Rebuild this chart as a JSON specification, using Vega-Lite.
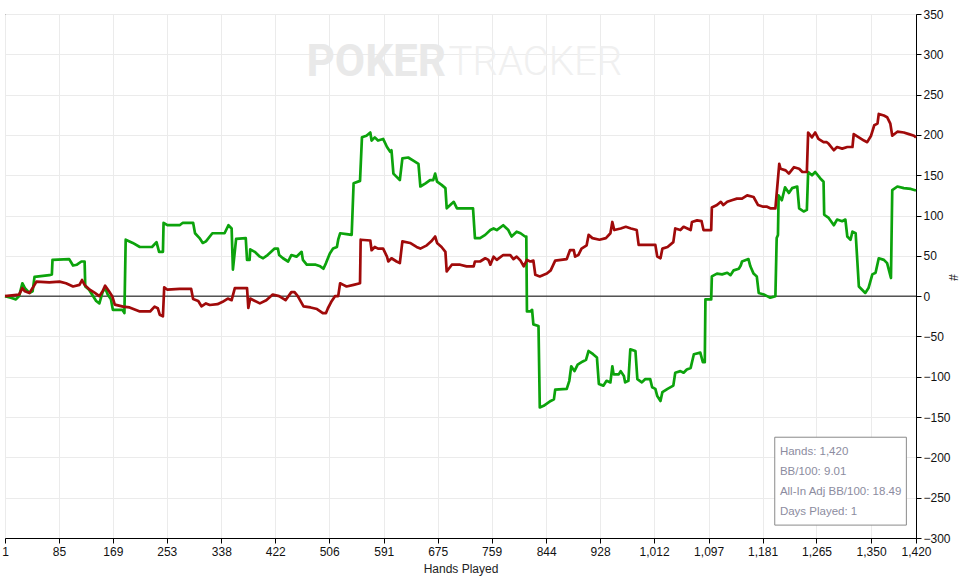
{
  "$schema": "https://vega.github.io/schema/vega-lite/v6.json",
  "width": 911,
  "height": 524,
  "autosize": "none",
  "padding": {"left": 5, "top": 14, "right": 48, "bottom": 40},
  "background": "white",
  "config": {
    "view": {"stroke": "black", "strokeWidth": 1},
    "font": "Liberation Sans"
  },
  "datasets": {
    "stats": [
      {"label": "Hands: 1,420|BB/100: 9.01|All-In Adj BB/100: 18.49|Days Played: 1"}
    ],
    "series": [
      {"s":"g","h":1,"v":0},{"s":"g","h":10,"v":-2},{"s":"g","h":18,"v":-4},{"s":"g","h":23,"v":0},{"s":"g","h":28,"v":16},{"s":"g","h":32,"v":10},{"s":"g","h":39,"v":4},{"s":"g","h":44,"v":6},{"s":"g","h":47,"v":24},{"s":"g","h":70,"v":26},{"s":"g","h":74,"v":27},{"s":"g","h":75,"v":45},{"s":"g","h":101,"v":46},{"s":"g","h":107,"v":38},{"s":"g","h":113,"v":39},{"s":"g","h":120,"v":43},{"s":"g","h":125,"v":43},{"s":"g","h":126,"v":12},{"s":"g","h":132,"v":8},{"s":"g","h":143,"v":-6},{"s":"g","h":148,"v":-9},{"s":"g","h":153,"v":5},{"s":"g","h":157,"v":10},{"s":"g","h":161,"v":2},{"s":"g","h":166,"v":-4},{"s":"g","h":169,"v":-17},{"s":"g","h":184,"v":-17},{"s":"g","h":187,"v":-21},{"s":"g","h":189,"v":70},{"s":"g","h":200,"v":66},{"s":"g","h":211,"v":61},{"s":"g","h":230,"v":61},{"s":"g","h":237,"v":67},{"s":"g","h":241,"v":55},{"s":"g","h":247,"v":55},{"s":"g","h":248,"v":91},{"s":"g","h":254,"v":88},{"s":"g","h":273,"v":88},{"s":"g","h":278,"v":91},{"s":"g","h":294,"v":91},{"s":"g","h":297,"v":78},{"s":"g","h":304,"v":72},{"s":"g","h":309,"v":66},{"s":"g","h":314,"v":68},{"s":"g","h":324,"v":78},{"s":"g","h":343,"v":78},{"s":"g","h":349,"v":88},{"s":"g","h":354,"v":84},{"s":"g","h":356,"v":33},{"s":"g","h":361,"v":71},{"s":"g","h":376,"v":72},{"s":"g","h":378,"v":45},{"s":"g","h":382,"v":45},{"s":"g","h":383,"v":58},{"s":"g","h":390,"v":55},{"s":"g","h":398,"v":49},{"s":"g","h":403,"v":47},{"s":"g","h":410,"v":51},{"s":"g","h":421,"v":59},{"s":"g","h":426,"v":59},{"s":"g","h":428,"v":51},{"s":"g","h":434,"v":47},{"s":"g","h":442,"v":43},{"s":"g","h":447,"v":51},{"s":"g","h":455,"v":49},{"s":"g","h":463,"v":55},{"s":"g","h":465,"v":45},{"s":"g","h":471,"v":39},{"s":"g","h":485,"v":39},{"s":"g","h":492,"v":37},{"s":"g","h":497,"v":34},{"s":"g","h":501,"v":41},{"s":"g","h":507,"v":53},{"s":"g","h":512,"v":59},{"s":"g","h":518,"v":61},{"s":"g","h":520,"v":70},{"s":"g","h":523,"v":78},{"s":"g","h":533,"v":77},{"s":"g","h":541,"v":76},{"s":"g","h":544,"v":140},{"s":"g","h":554,"v":143},{"s":"g","h":557,"v":197},{"s":"g","h":564,"v":199},{"s":"g","h":570,"v":203},{"s":"g","h":572,"v":193},{"s":"g","h":577,"v":197},{"s":"g","h":582,"v":193},{"s":"g","h":590,"v":195},{"s":"g","h":596,"v":185},{"s":"g","h":601,"v":179},{"s":"g","h":603,"v":181},{"s":"g","h":606,"v":152},{"s":"g","h":611,"v":148},{"s":"g","h":616,"v":144},{"s":"g","h":620,"v":171},{"s":"g","h":629,"v":172},{"s":"g","h":637,"v":168},{"s":"g","h":645,"v":164},{"s":"g","h":648,"v":136},{"s":"g","h":656,"v":140},{"s":"g","h":663,"v":144},{"s":"g","h":668,"v":144},{"s":"g","h":671,"v":152},{"s":"g","h":674,"v":142},{"s":"g","h":681,"v":138},{"s":"g","h":687,"v":134},{"s":"g","h":689,"v":109},{"s":"g","h":697,"v":115},{"s":"g","h":700,"v":117},{"s":"g","h":705,"v":109},{"s":"g","h":730,"v":109},{"s":"g","h":733,"v":72},{"s":"g","h":741,"v":72},{"s":"g","h":749,"v":76},{"s":"g","h":757,"v":82},{"s":"g","h":762,"v":84},{"s":"g","h":767,"v":82},{"s":"g","h":777,"v":88},{"s":"g","h":785,"v":82},{"s":"g","h":790,"v":74},{"s":"g","h":798,"v":80},{"s":"g","h":804,"v":78},{"s":"g","h":811,"v":74},{"s":"g","h":813,"v":74},{"s":"g","h":814,"v":-19},{"s":"g","h":819,"v":-19},{"s":"g","h":822,"v":-17},{"s":"g","h":824,"v":-35},{"s":"g","h":832,"v":-37},{"s":"g","h":834,"v":-138},{"s":"g","h":840,"v":-136},{"s":"g","h":851,"v":-130},{"s":"g","h":856,"v":-128},{"s":"g","h":858,"v":-116},{"s":"g","h":876,"v":-115},{"s":"g","h":880,"v":-105},{"s":"g","h":883,"v":-87},{"s":"g","h":888,"v":-93},{"s":"g","h":893,"v":-85},{"s":"g","h":901,"v":-81},{"s":"g","h":906,"v":-79},{"s":"g","h":910,"v":-68},{"s":"g","h":917,"v":-72},{"s":"g","h":923,"v":-76},{"s":"g","h":926,"v":-109},{"s":"g","h":933,"v":-111},{"s":"g","h":938,"v":-105},{"s":"g","h":944,"v":-107},{"s":"g","h":947,"v":-87},{"s":"g","h":949,"v":-97},{"s":"g","h":957,"v":-97},{"s":"g","h":960,"v":-93},{"s":"g","h":965,"v":-99},{"s":"g","h":967,"v":-107},{"s":"g","h":972,"v":-105},{"s":"g","h":975,"v":-66},{"s":"g","h":983,"v":-68},{"s":"g","h":986,"v":-103},{"s":"g","h":993,"v":-107},{"s":"g","h":998,"v":-103},{"s":"g","h":1006,"v":-103},{"s":"g","h":1009,"v":-113},{"s":"g","h":1014,"v":-115},{"s":"g","h":1017,"v":-124},{"s":"g","h":1022,"v":-130},{"s":"g","h":1025,"v":-119},{"s":"g","h":1033,"v":-115},{"s":"g","h":1042,"v":-111},{"s":"g","h":1045,"v":-95},{"s":"g","h":1053,"v":-93},{"s":"g","h":1058,"v":-95},{"s":"g","h":1063,"v":-91},{"s":"g","h":1069,"v":-89},{"s":"g","h":1074,"v":-72},{"s":"g","h":1084,"v":-70},{"s":"g","h":1088,"v":-82},{"s":"g","h":1091,"v":-82},{"s":"g","h":1092,"v":-4},{"s":"g","h":1101,"v":-4},{"s":"g","h":1102,"v":24.5},{"s":"g","h":1110,"v":28},{"s":"g","h":1118,"v":27},{"s":"g","h":1126,"v":29},{"s":"g","h":1131,"v":26},{"s":"g","h":1136,"v":32},{"s":"g","h":1144,"v":34},{"s":"g","h":1147,"v":38},{"s":"g","h":1149,"v":43},{"s":"g","h":1159,"v":46},{"s":"g","h":1162,"v":37},{"s":"g","h":1167,"v":28},{"s":"g","h":1172,"v":24.5},{"s":"g","h":1175,"v":4},{"s":"g","h":1183,"v":2},{"s":"g","h":1188,"v":0},{"s":"g","h":1193,"v":-2},{"s":"g","h":1201,"v":0},{"s":"g","h":1203,"v":72},{"s":"g","h":1205,"v":76},{"s":"g","h":1206,"v":125},{"s":"g","h":1211,"v":119},{"s":"g","h":1216,"v":135},{"s":"g","h":1222,"v":128},{"s":"g","h":1227,"v":134},{"s":"g","h":1235,"v":136},{"s":"g","h":1238,"v":109},{"s":"g","h":1245,"v":105},{"s":"g","h":1250,"v":107},{"s":"g","h":1252,"v":154},{"s":"g","h":1258,"v":150},{"s":"g","h":1263,"v":154},{"s":"g","h":1271,"v":146},{"s":"g","h":1276,"v":142},{"s":"g","h":1277,"v":101},{"s":"g","h":1284,"v":97},{"s":"g","h":1292,"v":88},{"s":"g","h":1297,"v":95},{"s":"g","h":1305,"v":93},{"s":"g","h":1310,"v":95},{"s":"g","h":1313,"v":74},{"s":"g","h":1318,"v":70},{"s":"g","h":1321,"v":80},{"s":"g","h":1326,"v":78},{"s":"g","h":1331,"v":12},{"s":"g","h":1336,"v":8},{"s":"g","h":1341,"v":4},{"s":"g","h":1346,"v":10},{"s":"g","h":1352,"v":27},{"s":"g","h":1357,"v":29},{"s":"g","h":1362,"v":47},{"s":"g","h":1370,"v":45},{"s":"g","h":1375,"v":41},{"s":"g","h":1381,"v":22.5},{"s":"g","h":1383,"v":131.5},{"s":"g","h":1391,"v":136},{"s":"g","h":1401,"v":134},{"s":"g","h":1412,"v":133},{"s":"g","h":1420,"v":131},
      {"s":"r","h":1,"v":0},{"s":"r","h":23,"v":2},{"s":"r","h":28,"v":10},{"s":"r","h":32,"v":6},{"s":"r","h":39,"v":4},{"s":"r","h":44,"v":10},{"s":"r","h":50,"v":18},{"s":"r","h":70,"v":17},{"s":"r","h":86,"v":18},{"s":"r","h":96,"v":16},{"s":"r","h":107,"v":12},{"s":"r","h":117,"v":14},{"s":"r","h":121,"v":20},{"s":"r","h":125,"v":14},{"s":"r","h":133,"v":8},{"s":"r","h":141,"v":4},{"s":"r","h":148,"v":0},{"s":"r","h":153,"v":6},{"s":"r","h":157,"v":13},{"s":"r","h":163,"v":6},{"s":"r","h":168,"v":0},{"s":"r","h":172,"v":-10.5},{"s":"r","h":185,"v":-13},{"s":"r","h":195,"v":-14},{"s":"r","h":211,"v":-19},{"s":"r","h":227,"v":-19},{"s":"r","h":234,"v":-13},{"s":"r","h":239,"v":-15},{"s":"r","h":242,"v":-23},{"s":"r","h":247,"v":-25},{"s":"r","h":249,"v":11},{"s":"r","h":254,"v":8},{"s":"r","h":273,"v":9},{"s":"r","h":291,"v":9},{"s":"r","h":294,"v":-3.5},{"s":"r","h":302,"v":-6},{"s":"r","h":307,"v":-12.6},{"s":"r","h":314,"v":-9},{"s":"r","h":320,"v":-11},{"s":"r","h":332,"v":-10},{"s":"r","h":340,"v":-7},{"s":"r","h":348,"v":-3},{"s":"r","h":354,"v":-5},{"s":"r","h":359,"v":10},{"s":"r","h":378,"v":10},{"s":"r","h":380,"v":-14.6},{"s":"r","h":383,"v":-3},{"s":"r","h":388,"v":-5},{"s":"r","h":398,"v":-9},{"s":"r","h":408,"v":-5},{"s":"r","h":418,"v":2},{"s":"r","h":428,"v":0},{"s":"r","h":438,"v":-5},{"s":"r","h":447,"v":5},{"s":"r","h":452,"v":5},{"s":"r","h":457,"v":0},{"s":"r","h":466,"v":-12.6},{"s":"r","h":477,"v":-14},{"s":"r","h":487,"v":-16},{"s":"r","h":496,"v":-21},{"s":"r","h":501,"v":-21},{"s":"r","h":504,"v":-15},{"s":"r","h":510,"v":-6},{"s":"r","h":515,"v":0},{"s":"r","h":520,"v":0},{"s":"r","h":523,"v":16},{"s":"r","h":528,"v":14},{"s":"r","h":533,"v":12},{"s":"r","h":544,"v":14},{"s":"r","h":554,"v":16},{"s":"r","h":555,"v":70},{"s":"r","h":570,"v":69},{"s":"r","h":572,"v":57},{"s":"r","h":577,"v":61},{"s":"r","h":582,"v":59},{"s":"r","h":590,"v":59},{"s":"r","h":596,"v":49},{"s":"r","h":598,"v":43},{"s":"r","h":603,"v":47},{"s":"r","h":611,"v":43},{"s":"r","h":616,"v":41},{"s":"r","h":620,"v":68},{"s":"r","h":632,"v":66},{"s":"r","h":642,"v":61},{"s":"r","h":648,"v":59},{"s":"r","h":658,"v":63},{"s":"r","h":665,"v":68},{"s":"r","h":671,"v":74},{"s":"r","h":674,"v":66},{"s":"r","h":681,"v":61},{"s":"r","h":687,"v":55},{"s":"r","h":689,"v":30.6},{"s":"r","h":697,"v":39},{"s":"r","h":710,"v":39},{"s":"r","h":720,"v":37},{"s":"r","h":731,"v":37},{"s":"r","h":733,"v":43},{"s":"r","h":741,"v":43},{"s":"r","h":749,"v":47},{"s":"r","h":754,"v":45},{"s":"r","h":757,"v":39},{"s":"r","h":762,"v":49},{"s":"r","h":767,"v":45},{"s":"r","h":777,"v":51},{"s":"r","h":788,"v":51},{"s":"r","h":793,"v":46},{"s":"r","h":798,"v":49},{"s":"r","h":804,"v":44},{"s":"r","h":809,"v":37},{"s":"r","h":814,"v":45},{"s":"r","h":819,"v":43},{"s":"r","h":824,"v":44},{"s":"r","h":827,"v":26.5},{"s":"r","h":834,"v":24.5},{"s":"r","h":845,"v":28},{"s":"r","h":851,"v":32},{"s":"r","h":858,"v":44},{"s":"r","h":876,"v":46},{"s":"r","h":881,"v":57},{"s":"r","h":887,"v":57},{"s":"r","h":889,"v":49},{"s":"r","h":894,"v":51},{"s":"r","h":899,"v":59},{"s":"r","h":907,"v":63},{"s":"r","h":910,"v":76},{"s":"r","h":916,"v":72},{"s":"r","h":927,"v":70},{"s":"r","h":937,"v":72},{"s":"r","h":944,"v":78},{"s":"r","h":947,"v":92},{"s":"r","h":950,"v":82},{"s":"r","h":960,"v":84},{"s":"r","h":968,"v":86},{"s":"r","h":976,"v":84},{"s":"r","h":985,"v":82},{"s":"r","h":988,"v":63.6},{"s":"r","h":1014,"v":63.6},{"s":"r","h":1017,"v":49},{"s":"r","h":1022,"v":47},{"s":"r","h":1025,"v":59},{"s":"r","h":1033,"v":61},{"s":"r","h":1042,"v":67},{"s":"r","h":1045,"v":84},{"s":"r","h":1053,"v":82},{"s":"r","h":1058,"v":86},{"s":"r","h":1069,"v":82},{"s":"r","h":1071,"v":92},{"s":"r","h":1079,"v":94},{"s":"r","h":1086,"v":93},{"s":"r","h":1089,"v":82},{"s":"r","h":1101,"v":82},{"s":"r","h":1102,"v":110},{"s":"r","h":1110,"v":113},{"s":"r","h":1116,"v":117},{"s":"r","h":1120,"v":113},{"s":"r","h":1126,"v":117},{"s":"r","h":1133,"v":119},{"s":"r","h":1141,"v":121},{"s":"r","h":1149,"v":121},{"s":"r","h":1157,"v":125},{"s":"r","h":1167,"v":123},{"s":"r","h":1174,"v":113},{"s":"r","h":1182,"v":111},{"s":"r","h":1188,"v":111},{"s":"r","h":1193,"v":109},{"s":"r","h":1201,"v":109},{"s":"r","h":1207,"v":164},{"s":"r","h":1209,"v":158},{"s":"r","h":1217,"v":156},{"s":"r","h":1222,"v":152},{"s":"r","h":1230,"v":160},{"s":"r","h":1238,"v":158},{"s":"r","h":1243,"v":154},{"s":"r","h":1250,"v":154},{"s":"r","h":1252,"v":203},{"s":"r","h":1258,"v":197},{"s":"r","h":1263,"v":203},{"s":"r","h":1268,"v":195},{"s":"r","h":1276,"v":191},{"s":"r","h":1281,"v":191},{"s":"r","h":1284,"v":189},{"s":"r","h":1292,"v":181},{"s":"r","h":1297,"v":185},{"s":"r","h":1305,"v":183},{"s":"r","h":1313,"v":185},{"s":"r","h":1321,"v":185},{"s":"r","h":1323,"v":201},{"s":"r","h":1331,"v":197},{"s":"r","h":1339,"v":193},{"s":"r","h":1344,"v":191},{"s":"r","h":1350,"v":199},{"s":"r","h":1355,"v":212},{"s":"r","h":1360,"v":214},{"s":"r","h":1362,"v":226},{"s":"r","h":1370,"v":224},{"s":"r","h":1375,"v":222},{"s":"r","h":1380,"v":214},{"s":"r","h":1383,"v":199},{"s":"r","h":1391,"v":204},{"s":"r","h":1401,"v":203},{"s":"r","h":1409,"v":201},{"s":"r","h":1417,"v":199},{"s":"r","h":1420,"v":197}
    ]
  },
  "encoding": {
    "x": {
      "type": "quantitative",
      "scale": {"domain": [1, 1420], "nice": false, "zero": false},
      "axis": {
        "orient": "bottom",
        "values": [1, 85, 169, 253, 338, 422, 506, 591, 675, 759, 844, 928, 1012, 1097, 1181, 1265, 1350, 1420],
        "format": ",d",
        "title": "Hands Played",
        "titleFontWeight": "normal", "titleFontSize": 12, "titleColor": "#222", "titlePadding": 6,
        "labelFontSize": 12, "labelColor": "#111", "labelPadding": 3,
        "tickColor": "black", "tickSize": 5, "domainColor": "black",
        "grid": true, "gridColor": "#ebebeb", "labelFlush": false, "labelOverlap": false
      }
    },
    "y": {
      "type": "quantitative",
      "scale": {"domain": [-300, 350], "nice": false, "zero": false},
      "axis": {
        "orient": "right",
        "values": [-300, -250, -200, -150, -100, -50, 0, 50, 100, 150, 200, 250, 300, 350],
        "title": "#",
        "titleAngle": 90, "titleFontWeight": "normal", "titleFontSize": 12, "titleColor": "#222",
        "titleX": 36, "titleY": 263, "titleAlign": "center", "titleBaseline": "middle",
        "labelFontSize": 12, "labelColor": "#111", "labelPadding": 2,
        "tickColor": "black", "tickSize": 5, "domainColor": "black",
        "grid": true, "gridColor": "#ebebeb", "labelFlush": false, "labelOverlap": false
      }
    }
  },
  "layer": [
    {
      "data": {"values": [{"t": "POKER", "x": 688, "y": 289}]},
      "mark": {"type": "text", "align": "right", "baseline": "middle", "font": "Roboto", "fontWeight": "bold", "fontSize": 44, "color": "#e9e9e9"},
      "encoding": {
        "x": {"field": "x"},
        "y": {"field": "y"},
        "text": {"field": "t"}
      }
    },
    {
      "data": {"values": [{"t": "TRACKER", "x": 692, "y": 289}]},
      "mark": {"type": "text", "align": "left", "baseline": "middle", "font": "Roboto", "fontWeight": 300, "fontSize": 40, "color": "#f0f0f0"},
      "encoding": {
        "x": {"field": "x"},
        "y": {"field": "y"},
        "text": {"field": "t"}
      }
    },
    {
      "data": {"values": [{"y": 0}]},
      "mark": {"type": "rule", "color": "black", "strokeWidth": 1},
      "encoding": {
        "y": {"field": "y"}
      }
    },
    {
      "data": {"name": "series"},
      "mark": {"type": "line", "strokeWidth": 2.7, "strokeJoin": "round"},
      "encoding": {
        "x": {"field": "h"},
        "y": {"field": "v"},
        "detail": {"field": "s"},
        "color": {
          "field": "s", "type": "nominal",
          "scale": {"domain": ["g", "r"], "range": ["#0ca30c", "#a00a0a"]},
          "legend": null
        },
        "order": {"field": "h", "type": "quantitative"}
      }
    },
    {
      "data": {"values": [{"x": 1200, "x2": 1405, "y": -175, "y2": -284}]},
      "mark": {"type": "rect", "fill": "white", "stroke": "#8a8a8a", "strokeWidth": 1},
      "encoding": {
        "x": {"field": "x"},
        "x2": {"field": "x2"},
        "y": {"field": "y"},
        "y2": {"field": "y2"}
      }
    },
    {
      "data": {"name": "stats"},
      "mark": {"type": "text", "align": "left", "baseline": "top", "fontSize": 11.5, "lineHeight": 20, "lineBreak": "|", "color": "#8c8ca0", "font": "Liberation Sans"},
      "encoding": {
        "x": {"datum": 1208},
        "y": {"datum": -186},
        "text": {"field": "label"}
      }
    }
  ]
}
